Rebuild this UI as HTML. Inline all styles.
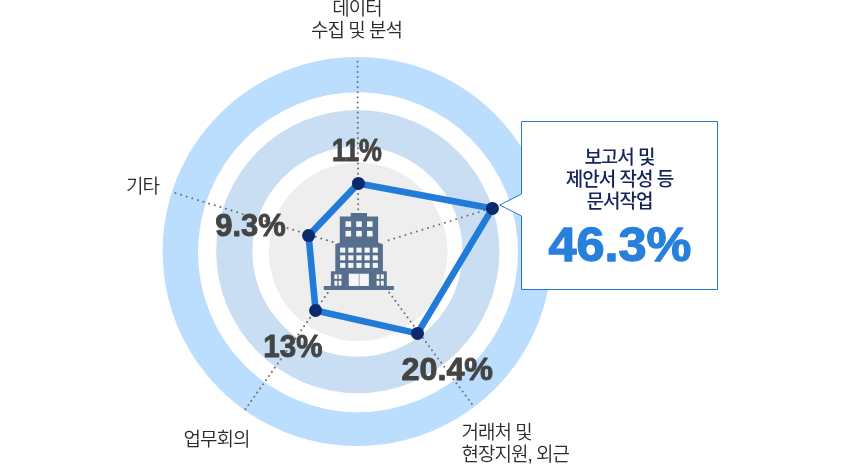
<!DOCTYPE html>
<html lang="ko">
<head>
<meta charset="utf-8">
<title>업무 시간 비중</title>
<style>
html,body{margin:0;padding:0;background:#fff;}
body{width:845px;height:469px;overflow:hidden;}
svg{display:block;}
.lbl{font-family:"Liberation Sans","Noto Sans CJK KR","NanumGothic",sans-serif;font-size:19px;font-weight:350;fill:#2b2b2b;letter-spacing:-1px;}
.pct{font-family:"Liberation Sans","DejaVu Sans",sans-serif;font-weight:700;fill:#444;font-size:30.5px;stroke:#444;stroke-width:0.9px;stroke-linejoin:round;}
.box{font-family:"Liberation Sans","Noto Sans CJK KR","NanumGothic",sans-serif;font-size:19px;font-weight:500;fill:#14235a;letter-spacing:-1px;}
.big{font-family:"Liberation Sans","DejaVu Sans",sans-serif;font-weight:700;fill:#2780db;font-size:47.2px;stroke:#2780db;stroke-width:1.3px;stroke-linejoin:round;}
</style>
</head>
<body>
<svg width="845" height="469" viewBox="0 0 845 469">
<rect width="845" height="469" fill="#ffffff"/>
<!-- rings -->
<circle cx="357.2" cy="251.5" r="194.6" fill="#bbddfe"/>
<circle cx="358.0" cy="252.3" r="160" fill="#ffffff"/>
<circle cx="357.8" cy="251.6" r="141.6" fill="#c9def3"/>
<circle cx="357.5" cy="251.7" r="105.1" fill="#ffffff"/>
<circle cx="358.2" cy="251.8" r="89.3" fill="#eeeeee"/>
<!-- axes -->
<g stroke="#707070" stroke-width="2" stroke-linecap="round" fill="none">
<line x1="357.50" y1="61.70" x2="358.20" y2="209.40" stroke-dasharray="0.01 5.080"/>
<line x1="388.60" y1="240.30" x2="490.10" y2="208.57" stroke-dasharray="0.01 5.892"/>
<line x1="389.20" y1="292.60" x2="471.86" y2="403.98" stroke-dasharray="0.01 5.123"/>
<line x1="327.70" y1="292.90" x2="245.34" y2="409.28" stroke-dasharray="0.01 5.078"/>
<line x1="175.45" y1="193.10" x2="332.60" y2="242.03" stroke-dasharray="0.01 5.865"/>
</g>
<!-- polygon -->
<polygon points="358.4,183.4 492.4,208.4 417.5,333.4 315.6,310.5 308.6,235.6" fill="none" stroke="#217cd9" stroke-width="6.6" stroke-linejoin="round"/>
<g fill="#0c2a6b">
<circle cx="358.4" cy="183.4" r="6.5"/>
<circle cx="492.4" cy="208.4" r="6.5"/>
<circle cx="417.5" cy="333.4" r="6.5"/>
<circle cx="315.6" cy="310.5" r="6.5"/>
<circle cx="308.6" cy="235.6" r="6.5"/>
</g>
<!-- building icon -->
<g fill="#576f8f">
<path d="M350.7 213 H367 V216.5 H378.1 V242.5 L382.9 244.3 V271.2 H386.8 V286 H393.9 V290 H323.8 V286 H330.9 V271.2 H335.3 V244.3 L339.8 242.5 V216.5 H350.7 Z"/>
</g>
<g fill="#f6f6f6">
<rect x="345.5" y="221.3" width="5.6" height="5.6"/>
<rect x="356.2" y="221.3" width="5.6" height="5.6"/>
<rect x="367.0" y="221.3" width="5.6" height="5.6"/>
<rect x="345.5" y="230.9" width="5.6" height="5.6"/>
<rect x="356.2" y="230.9" width="5.6" height="5.6"/>
<rect x="367.0" y="230.9" width="5.6" height="5.6"/>
<rect x="340.1" y="247.6" width="5.2" height="5"/>
<rect x="348.25" y="247.6" width="5.2" height="5"/>
<rect x="356.4" y="247.6" width="5.2" height="5"/>
<rect x="364.55" y="247.6" width="5.2" height="5"/>
<rect x="372.7" y="247.6" width="5.2" height="5"/>
<rect x="340.1" y="255.3" width="5.2" height="5"/>
<rect x="348.25" y="255.3" width="5.2" height="5"/>
<rect x="356.4" y="255.3" width="5.2" height="5"/>
<rect x="364.55" y="255.3" width="5.2" height="5"/>
<rect x="372.7" y="255.3" width="5.2" height="5"/>
<rect x="340.1" y="262.9" width="5.2" height="5"/>
<rect x="348.25" y="262.9" width="5.2" height="5"/>
<rect x="356.4" y="262.9" width="5.2" height="5"/>
<rect x="364.55" y="262.9" width="5.2" height="5"/>
<rect x="372.7" y="262.9" width="5.2" height="5"/>
<rect x="334.4" y="274.4" width="2.9" height="4.5"/>
<rect x="338.6" y="274.4" width="2.9" height="4.5"/>
<rect x="376.6" y="274.4" width="2.9" height="4.5"/>
<rect x="380.9" y="274.4" width="2.9" height="4.5"/>
<rect x="334.4" y="280.8" width="2.9" height="4.8"/>
<rect x="338.6" y="280.8" width="2.9" height="4.8"/>
<rect x="376.6" y="280.8" width="2.9" height="4.8"/>
<rect x="380.9" y="280.8" width="2.9" height="4.8"/>
<rect x="348.8" y="273.7" width="20.1" height="12.3"/>
</g>
<rect x="358.7" y="273.7" width="1" height="12.3" fill="#9fb0c4"/>
<!-- labels -->
<text class="lbl" text-anchor="middle" x="357" y="15">데이터</text>
<text class="lbl" text-anchor="middle" x="356.6" y="37.2">수집 및 분석</text>
<text class="lbl" x="126" y="192.6">기타</text>
<text class="lbl" x="183.5" y="445.6">업무회의</text>
<text class="lbl" x="461.5" y="438.6">거래처 및</text>
<text class="lbl" x="461.5" y="461">현장지원, 외근</text>
<!-- percentages -->
<text class="pct" text-anchor="middle" transform="translate(356.9 161) scale(0.843 1)">11%</text>
<text class="pct" text-anchor="middle" transform="translate(250.5 236) scale(1.014 1)">9.3%</text>
<text class="pct" text-anchor="middle" transform="translate(292.9 357) scale(0.97 1)">13%</text>
<text class="pct" text-anchor="middle" transform="translate(447.3 380) scale(1.06 1)">20.4%</text>
<!-- callout -->
<path d="M521.5 121.5 H717.5 V289.5 H521.5 V216 L499.7 205 L521.5 194 Z" fill="#ffffff" stroke="#227bd9" stroke-width="1"/>
<text class="box" text-anchor="middle" x="619.5" y="163.5">보고서 및</text>
<text class="box" text-anchor="middle" x="619.5" y="185.5">제안서 작성 등</text>
<text class="box" text-anchor="middle" x="619.5" y="207.5">문서작업</text>
<text class="big" text-anchor="middle" transform="translate(619.9 260.8) scale(1.068 1)">46.3%</text>
</svg>
</body>
</html>
